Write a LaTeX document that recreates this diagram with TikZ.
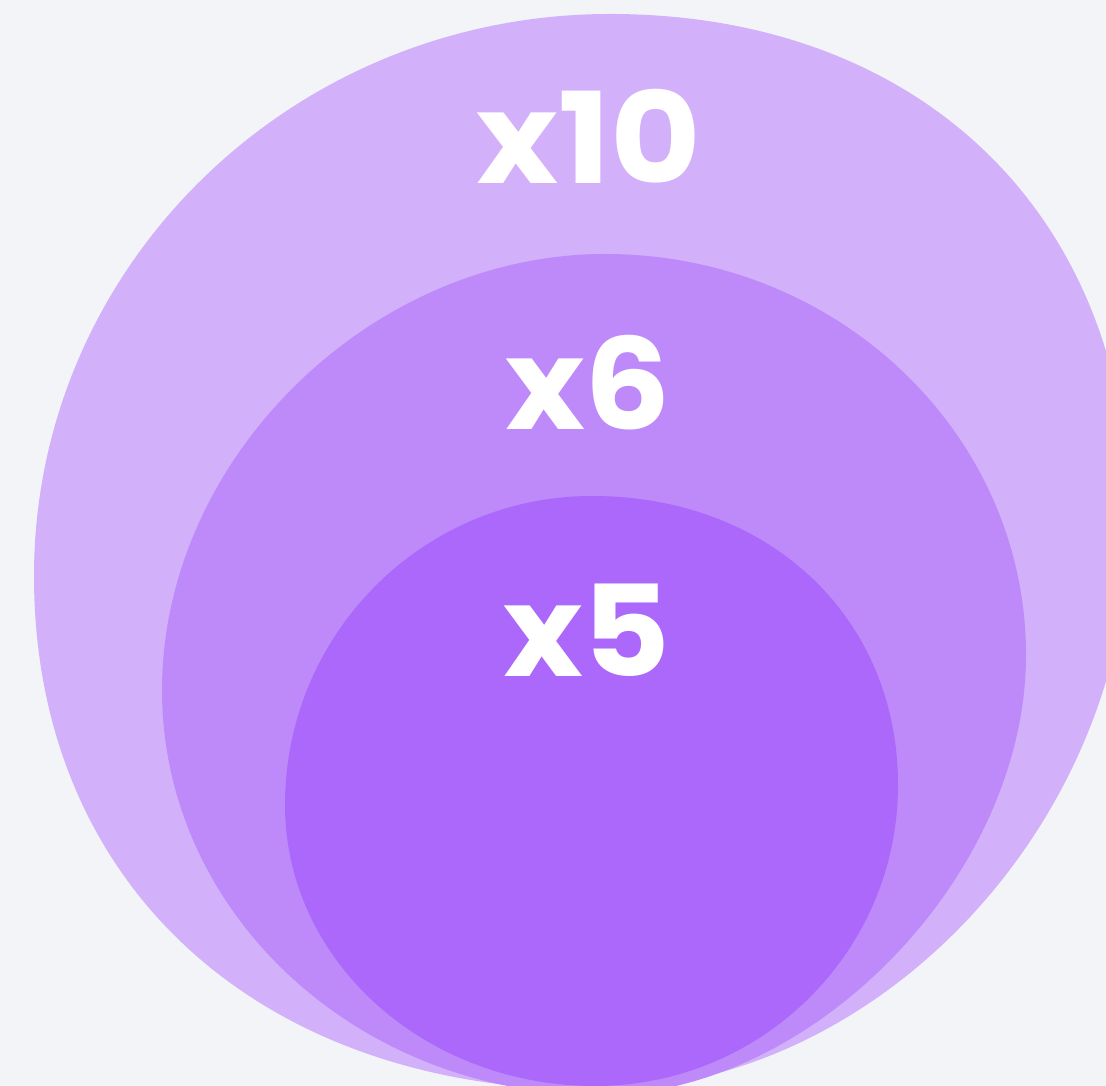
\documentclass[tikz,border=0pt]{standalone}
\usepackage{fontspec}
\setmainfont{Poppins}
\definecolor{bgc}{HTML}{F3F4F8}
\definecolor{outerc}{HTML}{D2B0FA}
\definecolor{midc}{HTML}{BE8AFA}
\definecolor{innerc}{HTML}{AB68FA}
\begin{document}
\begin{tikzpicture}[x=0.01cm,y=-0.01cm,
  blob/.style={draw=none},
  lbl/.style={anchor=base,text=white,inner sep=0pt,font=\fontsize{36}{40}\selectfont\bfseries}]
\useasboundingbox (0,0) rectangle (1106,1086);
\clip (0,0) rectangle (1106,1086);
\fill[bgc] (0,0) rectangle (1106,1086);
% outer
\fill[outerc,blob] (34,576) .. controls (34,265.6) and (291.9,14) .. (610,14)
  .. controls (922,14) and (1130,216.4) .. (1130,520)
  .. controls (1130,822) and (878.6,1090) .. (595,1090)
  .. controls (258.4,1090) and (34,884.4) .. (34,576) -- cycle;
% middle
\fill[midc,blob] (162,690) .. controls (162,459) and (370.2,254) .. (605,254)
  .. controls (837.5,254) and (1026,433.5) .. (1026,655)
  .. controls (1026,875) and (813,1095) .. (600,1095)
  .. controls (358.1,1095) and (162,913.7) .. (162,690) -- cycle;
% inner
\fill[innerc,blob] (285,805) .. controls (285,634.3) and (422.4,496) .. (592,496)
  .. controls (769.5,496) and (898,617.4) .. (898,785)
  .. controls (898,951.2) and (762.3,1086) .. (595,1086)
  .. controls (423.8,1086) and (285,960.2) .. (285,805) -- cycle;
\node[lbl] (tenx) at (589,184) {\scalebox{1.1}[1]{x10}};
\node[lbl] (sixx) at (588,430) {\scalebox{1.07}[1]{x6}};
\node[lbl] (fivex) at (587,677) {\scalebox{1.07}[1]{x5}};
\end{tikzpicture}
\end{document}
